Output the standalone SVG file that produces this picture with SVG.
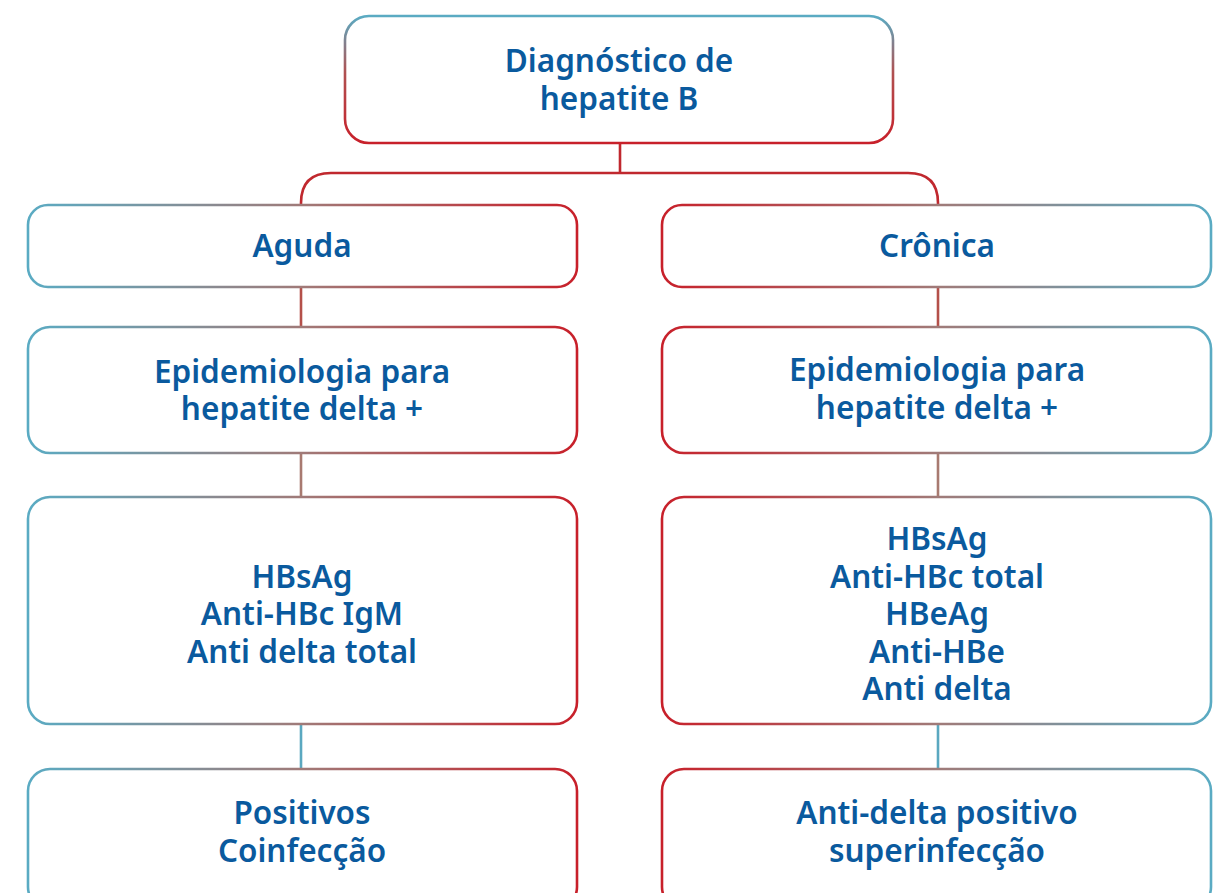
<svg xmlns="http://www.w3.org/2000/svg" width="1216" height="893" viewBox="0 0 1216 893">
<defs>
<linearGradient id="gBR" x1="0" y1="0" x2="1" y2="0">
<stop offset="0" stop-color="#5aabc3"/><stop offset="0.5" stop-color="#a07a78"/><stop offset="1" stop-color="#c8202a"/>
</linearGradient>
<linearGradient id="gRB" x1="0" y1="0" x2="1" y2="0">
<stop offset="0" stop-color="#c8202a"/><stop offset="0.5" stop-color="#a07a78"/><stop offset="1" stop-color="#5aabc3"/>
</linearGradient>
<linearGradient id="gTop" x1="0" y1="0" x2="0" y2="1">
<stop offset="0" stop-color="#5aabc3"/><stop offset="0.45" stop-color="#b05050"/><stop offset="1" stop-color="#c8202a"/>
</linearGradient>
<style>
.box{fill:#fff;stroke-width:2.6}
.t{font-family:"Noto Sans","Open Sans","Liberation Sans",sans-serif;font-weight:600;font-size:31.5px;fill:#0a5a9e;text-anchor:middle}
.c{fill:none;stroke-width:2.6}
</style>
</defs>
<g id="connectors">
<path class="c" stroke="#c0282e" d="M620 143 V173"/>
<path class="c" stroke="#c0282e" d="M301 205 V203 Q301 173 331 173 H908 Q938 173 938 203 V205"/>
<path class="c" stroke="#b4504a" d="M301 287 V327"/>
<path class="c" stroke="#a87a70" d="M301 453 V497"/>
<path class="c" stroke="#5aa8c0" d="M301 724 V769"/>
<path class="c" stroke="#b4504a" d="M938 287 V327"/>
<path class="c" stroke="#a87a70" d="M938 453 V497"/>
<path class="c" stroke="#5aa8c0" d="M938 724 V769"/>
</g>
<g id="n-top">
<rect class="box" x="345" y="16" width="548" height="127" rx="24" stroke="url(#gTop)"/>
<text class="t" x="619" y="72">Diagnóstico de</text>
<text class="t" x="619" y="110">hepatite B</text>
</g>
<g id="n-aguda">
<rect class="box" x="28" y="205" width="549" height="82" rx="20" stroke="url(#gBR)"/>
<text class="t" x="302" y="257">Aguda</text>
</g>
<g id="n-cronica">
<rect class="box" x="662" y="205" width="549" height="82" rx="20" stroke="url(#gRB)" stroke-width="3"/>
<text class="t" x="937" y="257">Crônica</text>
</g>
<g id="n-epi-l">
<rect class="box" x="28" y="327" width="549" height="126" rx="22" stroke="url(#gBR)"/>
<text class="t" x="302" y="383">Epidemiologia para</text>
<text class="t" x="302" y="420">hepatite delta +</text>
</g>
<g id="n-epi-r">
<rect class="box" x="662" y="327" width="549" height="126" rx="22" stroke="url(#gRB)" stroke-width="3"/>
<text class="t" x="937" y="381">Epidemiologia para</text>
<text class="t" x="937" y="419">hepatite delta +</text>
</g>
<g id="n-test-l">
<rect class="box" x="28" y="497" width="549" height="227" rx="22" stroke="url(#gBR)"/>
<text class="t" x="302" y="588">HBsAg</text>
<text class="t" x="302" y="625">Anti-HBc IgM</text>
<text class="t" x="302" y="663">Anti delta total</text>
</g>
<g id="n-test-r">
<rect class="box" x="662" y="497" width="549" height="227" rx="22" stroke="url(#gRB)" stroke-width="3"/>
<text class="t" x="937" y="550">HBsAg</text>
<text class="t" x="937" y="588">Anti-HBc total</text>
<text class="t" x="937" y="625">HBeAg</text>
<text class="t" x="937" y="663">Anti-HBe</text>
<text class="t" x="937" y="700">Anti delta</text>
</g>
<g id="n-res-l">
<rect class="box" x="28" y="769" width="549" height="140" rx="22" stroke="url(#gBR)"/>
<text class="t" x="302" y="824">Positivos</text>
<text class="t" x="302" y="862">Coinfecção</text>
</g>
<g id="n-res-r">
<rect class="box" x="662" y="769" width="549" height="140" rx="22" stroke="url(#gRB)" stroke-width="3"/>
<text class="t" x="937" y="824">Anti-delta positivo</text>
<text class="t" x="937" y="862">superinfecção</text>
</g>
</svg>
